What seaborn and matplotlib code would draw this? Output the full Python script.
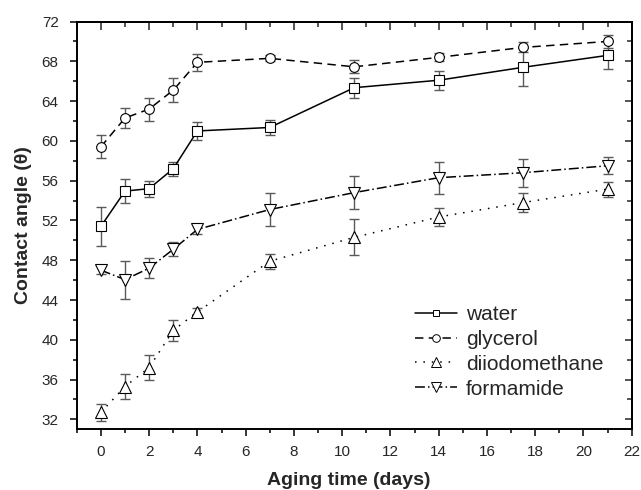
import matplotlib
matplotlib.use("Agg")
import matplotlib.pyplot as plt
import seaborn as sns
import pandas as pd
from matplotlib.lines import Line2D
from matplotlib.ticker import MultipleLocator

days = [0, 1, 2, 3, 4, 7, 10.5, 14, 17.5, 21]
water = [51.4, 54.95, 55.2, 57.2, 61.0, 61.35, 65.35, 66.1, 67.4, 68.6]
water_err = [2.0, 1.2, 0.8, 0.7, 0.9, 0.75, 1.0, 0.95, 1.9, 1.4]
glycerol = [59.4, 62.3, 63.2, 65.1, 67.9, 68.3, 67.45, 68.4, 69.4, 70.0]
glycerol_err = [1.15, 1.0, 1.15, 1.2, 0.85, 0.3, 0.65, 0.4, 0.5, 0.65]
diiodomethane = [32.7, 35.3, 37.2, 40.95, 42.8, 47.9, 50.3, 52.35, 53.8, 55.15]
diiodomethane_err = [0.85, 1.25, 1.25, 1.05, 0.35, 0.75, 1.8, 0.9, 1.0, 0.75]
formamide = [47.0, 46.05, 47.2, 49.1, 51.1, 53.1, 54.8, 56.3, 56.8, 57.5]
formamide_err = [0.4, 1.9, 1.0, 0.7, 0.5, 1.7, 1.65, 1.6, 1.4, 0.85]

series = ["water", "glycerol", "diiodomethane", "formamide"]
values = [water, glycerol, diiodomethane, formamide]
errors = [water_err, glycerol_err, diiodomethane_err, formamide_err]
markers = ["s", "o", "^", "v"]
msizes = [6.5, 7, 8.3, 8.3]
leg_msizes = [5, 5.5, 6.5, 6.5]
styles = ["-", (0, (5.5, 3.5)), (0, (1, 4.5)), (0, (6.5, 2, 1, 2))]

sns.set_style("white")
plt.rcParams["font.family"] = ["Liberation Sans", "DejaVu Sans"]

fig = plt.figure(figsize=(6.41, 4.90), dpi=100)
ax = fig.add_axes([0.1197, 0.1239, 0.8658, 0.8321])

handles = []
for name, vals, errs, mk, ms, lms, ls in zip(series, values, errors, markers,
                                             msizes, leg_msizes, styles):
    df = pd.DataFrame({"days": days, "angle": vals})
    ax.errorbar(days, vals, yerr=errs, fmt="none", ecolor="#5a5a5a",
                elinewidth=1.0, capsize=3.3, capthick=1.0, zorder=2)
    sns.lineplot(data=df, x="days", y="angle", ax=ax, color="black",
                 linestyle=ls, linewidth=1.1, marker=mk, markersize=ms,
                 markerfacecolor="white", markeredgecolor="black",
                 markeredgewidth=0.8, zorder=3, legend=False)
    handles.append(Line2D([], [], color="black", linestyle=ls, linewidth=1.1,
                          marker=mk, markersize=lms, markerfacecolor="white",
                          markeredgecolor="black", markeredgewidth=0.7, label=name))

ax.set_xlim(-1, 22)
ax.set_ylim(31, 72)
ax.xaxis.set_major_locator(MultipleLocator(2))
ax.xaxis.set_minor_locator(MultipleLocator(1))
ax.yaxis.set_major_locator(MultipleLocator(4))
ax.yaxis.set_minor_locator(MultipleLocator(2))
ax.tick_params(which="both", direction="out", top=False, right=False,
               bottom=True, left=True, labelsize=11, width=1.1, color="black")
ax.tick_params(which="major", length=5)
ax.tick_params(which="minor", length=3.2)
ax.tick_params(axis="x", which="major", pad=6.5)
ax.tick_params(axis="y", which="major", pad=8)
for sp in ax.spines.values():
    sp.set_linewidth(1.4)
    sp.set_color("black")

# mirrored ticks pointing into the plot on top and right
top = ax.secondary_xaxis("top")
top.xaxis.set_major_locator(MultipleLocator(2))
top.xaxis.set_minor_locator(MultipleLocator(1))
top.tick_params(which="both", direction="in", labeltop=False, width=1.1)
top.tick_params(which="major", length=6)
top.tick_params(which="minor", length=3.5)
top.spines["top"].set_linewidth(1.4)
right = ax.secondary_yaxis("right")
right.yaxis.set_major_locator(MultipleLocator(4))
right.yaxis.set_minor_locator(MultipleLocator(2))
right.tick_params(which="both", direction="in", labelright=False, width=1.1)
right.tick_params(which="major", length=5)
right.tick_params(which="minor", length=3.5)
right.spines["right"].set_linewidth(1.4)

ax.set_xlabel("Aging time (days)", fontsize=14, fontweight="bold", labelpad=7)
ax.set_ylabel("Contact angle (\u03b8)", fontsize=14, fontweight="bold", labelpad=7)
ax.xaxis.set_label_coords(0.49, -0.105)

leg = ax.legend(handles=handles, loc="upper left",
                bbox_to_anchor=(415 / 641, 1 - 305 / 490),
                bbox_transform=fig.transFigure,
                frameon=False, fontsize=15, handlelength=2.0, handletextpad=0.45,
                labelspacing=0.28, borderpad=0, borderaxespad=0)

fig.savefig("out.png", dpi=100)
